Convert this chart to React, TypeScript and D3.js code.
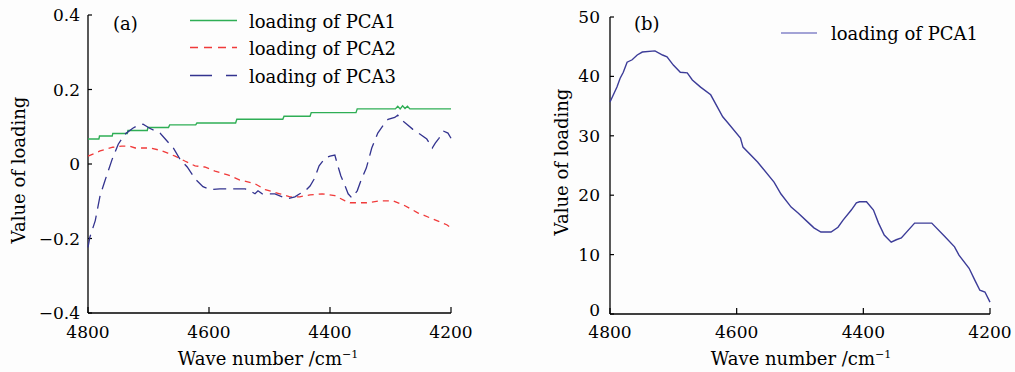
import React from "react";
import * as d3 from "d3";

// ---------- data ----------
const xTicks = [4800, 4600, 4400, 4200];
const yTicksA = [-0.4, -0.2, 0, 0.2, 0.4];
const yTickLabelsA = ["\u22120.4", "\u22120.2", "0", "0.2", "0.4"];
const yTicksB = [0, 10, 20, 30, 40, 50];

const pca1Wave = [4800, 4782, 4781, 4760, 4759, 4735, 4734, 4702, 4701, 4667, 4665, 4622, 4620, 4556, 4554, 4478, 4476, 4433, 4431, 4357, 4355, 4292, 4288, 4284, 4280, 4276, 4272, 4268, 4200];
const pca1Val = [0.067, 0.067, 0.075, 0.075, 0.082, 0.082, 0.09, 0.09, 0.098, 0.098, 0.105, 0.105, 0.11, 0.11, 0.12, 0.12, 0.128, 0.128, 0.138, 0.138, 0.148, 0.148, 0.155, 0.148, 0.156, 0.149, 0.155, 0.148, 0.148];

const pca2Wave = [4800, 4780, 4759, 4744, 4731, 4722, 4698, 4681, 4668, 4656, 4640, 4623, 4607, 4590, 4569, 4549, 4524, 4507, 4483, 4466, 4450, 4433, 4413, 4392, 4375, 4367, 4339, 4317, 4296, 4276, 4255, 4231, 4207, 4200];
const pca2Val = [0.021, 0.035, 0.045, 0.048, 0.048, 0.043, 0.043, 0.037, 0.029, 0.021, 0.008, -0.005, -0.008, -0.019, -0.029, -0.043, -0.053, -0.069, -0.08, -0.088, -0.088, -0.083, -0.08, -0.085, -0.099, -0.104, -0.104, -0.099, -0.099, -0.112, -0.131, -0.147, -0.163, -0.171];

const pca3Wave = [4800, 4797, 4788, 4780, 4772, 4760, 4750, 4739, 4726, 4717, 4709, 4698, 4681, 4669, 4659, 4648, 4636, 4623, 4610, 4598, 4582, 4560, 4540, 4532, 4524, 4519, 4512, 4499, 4491, 4479, 4469, 4458, 4450, 4441, 4433, 4426, 4418, 4408, 4400, 4392, 4387, 4382, 4375, 4370, 4364, 4355, 4349, 4340, 4331, 4321, 4312, 4304, 4293, 4288, 4281, 4273, 4263, 4251, 4240, 4231, 4226, 4220, 4212, 4205, 4200];
const pca3Val = [-0.224, -0.197, -0.152, -0.085, -0.045, 0.013, 0.053, 0.08, 0.096, 0.104, 0.107, 0.096, 0.083, 0.061, 0.043, 0.013, -0.008, -0.04, -0.061, -0.069, -0.067, -0.067, -0.067, -0.072, -0.08, -0.072, -0.08, -0.08, -0.08, -0.088, -0.093, -0.088, -0.08, -0.072, -0.059, -0.04, -0.005, 0.016, 0.021, 0.024, -0.005, -0.032, -0.059, -0.08, -0.091, -0.072, -0.045, -0.011, 0.043, 0.083, 0.104, 0.12, 0.125, 0.131, 0.117, 0.107, 0.093, 0.08, 0.067, 0.043, 0.056, 0.069, 0.088, 0.083, 0.069];

const bWave = [4800, 4789, 4784, 4779, 4773, 4765, 4757, 4749, 4729, 4717, 4710, 4700, 4689, 4678, 4670, 4657, 4641, 4622, 4614, 4594, 4590, 4567, 4541, 4530, 4514, 4503, 4486, 4478, 4467, 4451, 4440, 4432, 4419, 4411, 4406, 4395, 4384, 4376, 4367, 4356, 4348, 4340, 4319, 4292, 4271, 4256, 4249, 4233, 4224, 4216, 4208, 4200];
const bVal = [35.7, 38.2, 39.7, 40.7, 42.4, 42.8, 43.6, 44.1, 44.3, 43.6, 43.3, 41.9, 40.7, 40.6, 39.4, 38.2, 36.9, 33.2, 32.2, 29.6, 28.1, 25.6, 22.2, 20.2, 18.0, 17.0, 15.3, 14.5, 13.8, 13.8, 14.6, 15.8, 17.5, 18.7, 18.9, 18.9, 17.5, 15.3, 13.3, 12.1, 12.5, 12.8, 15.3, 15.3, 13.0, 11.3, 9.9, 7.7, 5.7, 4.0, 3.7, 2.0];

const legendA = ["loading of PCA1", "loading of PCA2", "loading of PCA3"];
const legendB = ["loading of PCA1"];

// ---------- styles ----------
const FONT = "DejaVu Serif, Liberation Serif, serif";
const GREEN = "#2fae55";
const RED = "#f03a3a";
const BLUE = "#33338f";
const BLUE_B = "#3c3c98";
const TICK_FS = 17;
const TEXT_FS = 18;

type Pt = [number, number];
const zip = (a: number[], b: number[]): Pt[] => a.map((w, i) => [w, b[i]]);

export default function App() {
  // panel (a)
  const xa = d3.scaleLinear().domain([4800, 4200]).range([88, 451]);
  const ya = d3.scaleLinear().domain([-0.4, 0.4]).range([313, 15]);
  const la = d3.line<Pt>().x((d) => xa(d[0])).y((d) => ya(d[1]));
  // panel (b)
  const xb = d3.scaleLinear().domain([4800, 4200]).range([610, 990]);
  const yb = d3.scaleLinear().domain([0, 50]).range([314, 17]);
  const lb = d3.line<Pt>().x((d) => xb(d[0])).y((d) => yb(d[1]));

  const xLabel = (cx: number) => (
    <text x={cx} y={365} textAnchor="middle" fontSize={TEXT_FS} fontFamily={FONT}>
      Wave number /cm
      <tspan fontSize={11} dy={-7}>{"\u22121"}</tspan>
    </text>
  );

  const axes = (
    xs: d3.ScaleLinear<number, number>,
    ys: d3.ScaleLinear<number, number>,
    yt: number[],
    ytl: string[],
    labelGap: number,
    zeroLift: number
  ) => {
    const [x0, x1] = xs.range();
    const [y0, y1] = ys.range();
    return (
      <g>
        <line x1={x0} x2={x0} y1={y0} y2={y1} stroke="#000" strokeWidth={1.3} />
        <line x1={x0} x2={x1} y1={y0} y2={y0} stroke="#000" strokeWidth={1.3} />
        {yt.map((t, i) => (
          <g key={"y" + t}>
            <line x1={x0} x2={x0 + 4} y1={ys(t)} y2={ys(t)} stroke="#000" strokeWidth={1.2} />
            <text
              x={x0 - labelGap}
              y={ys(t) + 6 - (i === 0 ? zeroLift : 0)}
              textAnchor="end"
              fontSize={TICK_FS}
              fontFamily={FONT}
            >
              {ytl[i]}
            </text>
          </g>
        ))}
        {xTicks.map((t) => (
          <g key={"x" + t}>
            <line x1={xs(t)} x2={xs(t)} y1={y0} y2={y0 - 6} stroke="#000" strokeWidth={1.2} />
            <text x={xs(t)} y={338} textAnchor="middle" fontSize={TICK_FS} fontFamily={FONT}>
              {t}
            </text>
          </g>
        ))}
      </g>
    );
  };

  const legendStyles = [
    { stroke: GREEN, dash: undefined as string | undefined },
    { stroke: RED, dash: "8,6" },
    { stroke: BLUE, dash: "22,14" },
  ];
  const legendBase = [28, 55, 83];

  return (
    <svg
      width={1015}
      height={372}
      style={{ position: "absolute", left: 0, top: 0, background: "#fdfdfd" }}
    >
      {/* panel (a) */}
      {axes(xa, ya, yTicksA, yTickLabelsA, 8, 0)}
      <path d={la(zip(pca1Wave, pca1Val)) || ""} fill="none" stroke={GREEN} strokeWidth={1.4} />
      <path d={la(zip(pca2Wave, pca2Val)) || ""} fill="none" stroke={RED} strokeWidth={1.3} strokeDasharray="6,5" />
      <path d={la(zip(pca3Wave, pca3Val)) || ""} fill="none" stroke={BLUE} strokeWidth={1.3} strokeDasharray="13,7" />
      <text x={113} y={30} fontSize={TEXT_FS} fontFamily={FONT}>(a)</text>
      {legendA.map((s, i) => (
        <g key={s + i}>
          <line
            x1={190}
            x2={237}
            y1={legendBase[i] - 7.5}
            y2={legendBase[i] - 7.5}
            stroke={legendStyles[i].stroke}
            strokeWidth={1.4}
            strokeDasharray={legendStyles[i].dash}
          />
          <text x={249} y={legendBase[i]} fontSize={TEXT_FS} fontFamily={FONT}>{s}</text>
        </g>
      ))}
      <text transform="translate(25,170) rotate(-90)" textAnchor="middle" fontSize={TEXT_FS} fontFamily={FONT}>
        Value of loading
      </text>
      {xLabel(268)}

      {/* panel (b) */}
      {axes(xb, yb, yTicksB, yTicksB.map(String), 10, 4)}
      <path d={lb(zip(bWave, bVal)) || ""} fill="none" stroke={BLUE_B} strokeWidth={1.4} />
      <text x={634} y={30} fontSize={TEXT_FS} fontFamily={FONT}>(b)</text>
      {legendB.map((s) => (
        <g key={s}>
          <line x1={781} x2={817} y1={33} y2={33} stroke="#8585c8" strokeWidth={1.4} />
          <text x={831} y={40} fontSize={TEXT_FS} fontFamily={FONT}>{s}</text>
        </g>
      ))}
      <text transform="translate(568,162) rotate(-90)" textAnchor="middle" fontSize={TEXT_FS} fontFamily={FONT}>
        Value of loading
      </text>
      {xLabel(801)}
    </svg>
  );
}
